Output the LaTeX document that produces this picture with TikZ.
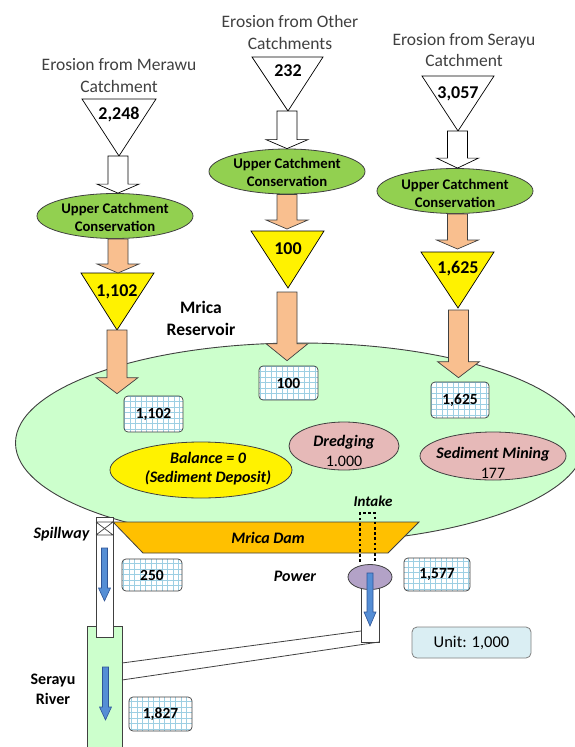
\documentclass[tikz,border=0pt]{standalone}
\usepackage{fontspec}
\setmainfont{Carlito}
\usetikzlibrary{shapes.geometric,calc}
\definecolor{titlegray}{HTML}{404040}
\definecolor{resgreen}{HTML}{CCFFCC}
\definecolor{ucgreen}{HTML}{92D050}
\definecolor{peach}{HTML}{F9BF8F}
\definecolor{pinkish}{HTML}{E6B9B8}
\definecolor{damorange}{HTML}{FFC000}
\definecolor{arrowblue}{HTML}{558ED5}
\definecolor{arrowbluedark}{HTML}{2F5597}
\definecolor{lavender}{HTML}{B3A2C7}
\definecolor{unitblue}{HTML}{DAEEF3}
\definecolor{gridblue}{HTML}{9DCFE3}
\definecolor{edgegray}{HTML}{404040}
\newcommand{\fs}[2]{\fontsize{#1}{#2}\selectfont}
% block arrow: [style]{x}{from}{to}{shaft half}{head half}{head length}
\newcommand{\blockarrow}[7][]{%
  \path[#1] let \p1=(#3), \p2=(#4) in
   (#2pt-#5,\y1) -- (#2pt+#5,\y1) -- (#2pt+#5,\y2+#7) -- (#2pt+#6,\y2+#7)
   -- (#2pt,\y2) -- (#2pt-#6,\y2+#7) -- (#2pt-#5,\y2+#7) -- cycle;}
\tikzset{
  titletext/.style={align=center, text=titlegray, inner sep=0, font=\fs{17.5}{21.5}},
  tri/.style={draw=black, line width=0.7pt, line join=miter},
  ucell/.style={ellipse, draw=edgegray, line width=0.8pt, fill=ucgreen,
    minimum width=156pt, minimum height=45pt, inner sep=0},
  uctext/.style={align=center, inner sep=0, font=\fs{14.7}{18}\bfseries},
  numtext/.style={inner sep=0, font=\fs{18}{20}\bfseries},
  orangearr/.style={draw=edgegray, line width=0.7pt, fill=peach, line join=miter},
  whitearr/.style={draw=black, line width=0.7pt, fill=white, line join=miter},
  bluearr/.style={draw=arrowbluedark, line width=0.6pt, fill=arrowblue, line join=miter},
  gridbox/.style={rectangle, rounded corners=4pt, draw=edgegray, line width=0.7pt,
    fill=white, inner sep=0, font=\fs{15.5}{17}\bfseries,
    path picture={\draw[gridblue, line width=1pt, step=5.5pt]
      (path picture bounding box.south west) grid (path picture bounding box.north east);}},
  inell/.style={ellipse, draw=edgegray, line width=0.8pt, inner sep=0},
  intext/.style={align=center, inner sep=0, font=\fs{16}{20}},
  lbl/.style={inner sep=0, font=\fs{16}{19.5}\bfseries\itshape},
}
\begin{document}
\begin{tikzpicture}[x=1pt,y=-1pt]
\useasboundingbox (0,0) rectangle (575,747);
\fill[white] (0,0) rectangle (575,747);

% reservoir
\begin{scope}
  \clip (0,0) rectangle (575,747);
  \path[draw=edgegray, line width=0.9pt, fill=resgreen] (300,443) ellipse [x radius=284.5, y radius=100];
\end{scope}
\node[inner sep=0, align=center, font=\fs{17.5}{22}\bfseries] (resT) at (201,318) {Mrica\\Reservoir};

% ---------- column 1: Merawu ----------
\node[titletext] (title1) at (119,75.5) {Erosion from Merawu\\Catchment};
\path[tri, fill=white] (82,99) coordinate (t1l) -- (156,99) coordinate (t1r) -- (119,156) coordinate (t1a) -- cycle;
\node[numtext] (n1) at (119,115) {2,248};
\node[ucell] (uc1) at (115,216) {};
\node[uctext] (uc1t) at (115,217) {Upper Catchment\\Conservation};
\path[tri, fill=yellow] (81,273) coordinate (y1l) -- (154,273) coordinate (y1r) -- (117,330) coordinate (y1a) -- cycle;
\node[numtext] (m1) at (117,292) {1,102};
\node[gridbox, minimum width=59pt, minimum height=36pt] (b1) at (153.5,414) {1,102};
\blockarrow[whitearr]{118}{t1a}{uc1.north}{10pt}{21pt}{9pt}
\blockarrow[orangearr]{118}{uc1.south}{$(y1l)!0.5!(y1r)$}{10pt}{21pt}{9pt}
\blockarrow[orangearr]{117}{y1a}{$(b1.north)+(0,-2)$}{10pt}{21pt}{16pt}

% ---------- column 2: Other ----------
\node[titletext] (title2) at (290,32.5) {Erosion from Other\\Catchments};
\path[tri, fill=white] (252,57) coordinate (t2l) -- (323,57) coordinate (t2r) -- (288,111) coordinate (t2a) -- cycle;
\node[numtext] (n2) at (288,71) {232};
\node[ucell] (uc2) at (287,171.5) {};
\node[uctext] (uc2t) at (287,172) {Upper Catchment\\Conservation};
\path[tri, fill=yellow] (251,231) coordinate (y2l) -- (324,231) coordinate (y2r) -- (288,288) coordinate (y2a) -- cycle;
\node[numtext] (m2) at (288,249) {100};
\node[gridbox, minimum width=59pt, minimum height=34pt] (b2) at (288.5,383) {100};
\blockarrow[whitearr]{287}{t2a}{uc2.north}{10pt}{21pt}{9pt}
\blockarrow[orangearr]{287}{uc2.south}{$(y2l)!0.5!(y2r)+(0,-2)$}{10pt}{21pt}{9pt}
\blockarrow[orangearr]{287}{$(y2a)+(0,4)$}{$(b2.north)+(0,-5)$}{10pt}{21pt}{17pt}

% ---------- column 3: Serayu ----------
\node[titletext] (title3) at (464,50) {Erosion from Serayu\\Catchment};
\path[tri, fill=white] (422,76) coordinate (t3l) -- (494,76) coordinate (t3r) -- (458,131) coordinate (t3a) -- cycle;
\node[numtext] (n3) at (458,94) {3,057};
\node[ucell] (uc3) at (455,191) {};
\node[uctext] (uc3t) at (455,193) {Upper Catchment\\Conservation};
\path[tri, fill=yellow] (421,252) coordinate (y3l) -- (494,252) coordinate (y3r) -- (458,308) coordinate (y3a) -- cycle;
\node[numtext] (m3) at (458,269) {1,625};
\node[gridbox, minimum width=58pt, minimum height=36pt] (b3) at (460,400) {1,625};
\blockarrow[whitearr]{457.5}{t3a}{uc3.north}{10pt}{21pt}{10pt}
\blockarrow[orangearr]{457.5}{uc3.south}{$(y3l)!0.5!(y3r)+(0,-3)$}{10pt}{21pt}{9pt}
\blockarrow[orangearr]{458.5}{$(y3a)+(0,2)$}{$(b3.north)+(0,-4)$}{10pt}{21pt}{16pt}

% ---------- inside reservoir ----------
\node[inell, fill=yellow, minimum width=182pt, minimum height=56pt] (bal) at (201,470) {};
\node[intext, font=\fs{16}{19.5}\bfseries\itshape] (balT) at (208,468.5) {Balance = 0\\(Sediment Deposit)};
\node[inell, fill=pinkish, minimum width=110pt, minimum height=48pt] (dr) at (344,446) {};
\node[intext] (drT) at (344,451) {\bfseries\itshape Dredging\\1.000};
\node[inell, fill=pinkish, minimum width=146pt, minimum height=48pt] (sm) at (493,456) {};
\node[intext] (smT) at (493,463) {\bfseries\itshape Sediment Mining\\177};

% ---------- river, spillway, power ----------
\path[draw=edgegray, line width=0.8pt, fill=resgreen] (87.5,626) coordinate (rv1) rectangle (122,752) coordinate (rv2);
\path[draw=edgegray, line width=0.8pt, fill=white] (361,577) coordinate (pt1) rectangle (379,642) coordinate (pt2);
\coordinate (ch1) at (361,631);
\coordinate (ch2) at (122,663);
\coordinate (ch3) at (379,642);
\coordinate (ch4) at (122,680);
\draw[edgegray, line width=0.8pt] (ch1) -- (ch2);
\draw[edgegray, line width=0.8pt] (ch3) -- (ch4);
\path[draw=edgegray, line width=0.8pt, fill=white] (96,517) coordinate (sp1) rectangle (113,637) coordinate (sp2);
\draw[edgegray, line width=0.7pt] (96,522) -- (113,522) (96,535) -- (113,535)
  (96,522) -- (113,535) (113,522) -- (96,535);

% dam
\path[draw=edgegray, line width=0.8pt, fill=damorange] (113,522) coordinate (d1) -- (419,522) coordinate (d2) -- (388,553) coordinate (d3) -- (143,553) coordinate (d4) -- cycle;
\node[lbl] (damT) at (268,538) {Mrica Dam};

% intake
\draw[black, line width=2.6pt, dash pattern=on 2.6pt off 2.6pt] (360,562) -- (360,513) -- (375,513) -- (375,562);
\node[lbl, font=\fs{15}{18}\bfseries\itshape] (intT) at (373,501) {Intake};

% power
\node[ellipse, draw=edgegray, line width=0.8pt, fill=lavender, minimum width=44pt, minimum height=25pt, inner sep=0] (pw) at (370,577) {};
\node[lbl] (pwT) at (295,576) {Power};

% blue arrows
\coordinate (sa1) at (104.5,548); \coordinate (sa2) at (104.5,601);
\coordinate (ra1) at (105.5,667); \coordinate (ra2) at (105.5,720);
\coordinate (pa1) at (370,573); \coordinate (pa2) at (370,626);
\blockarrow[bluearr]{104.5}{sa1}{sa2}{3pt}{6pt}{13pt}
\blockarrow[bluearr]{105.5}{ra1}{ra2}{3pt}{6pt}{13pt}
\blockarrow[bluearr]{370}{pa1}{pa2}{3pt}{6pt}{14pt}

% labels
\node[lbl] (spT) at (61.5,534) {Spillway};
\node[inner sep=0, align=center, font=\fs{16}{19.5}\bfseries] (rvT) at (53,689.5) {Serayu\\River};

% boxes
\node[gridbox, minimum width=60pt, minimum height=32pt] (b250) at (152,575) {250};
\node[gridbox, minimum width=66pt, minimum height=33pt] (b1577) at (437,574.5) {1,577};
\node[gridbox, minimum width=63pt, minimum height=34pt] (b1827) at (160.5,714) {1,827};
\node[rectangle, rounded corners=5pt, draw=gray, line width=0.8pt, fill=unitblue, inner sep=0,
  minimum width=119pt, minimum height=31pt, font=\fs{16.5}{19}] (unit) at (471.5,642.5) {Unit: 1,000};
\end{tikzpicture}
\end{document}
